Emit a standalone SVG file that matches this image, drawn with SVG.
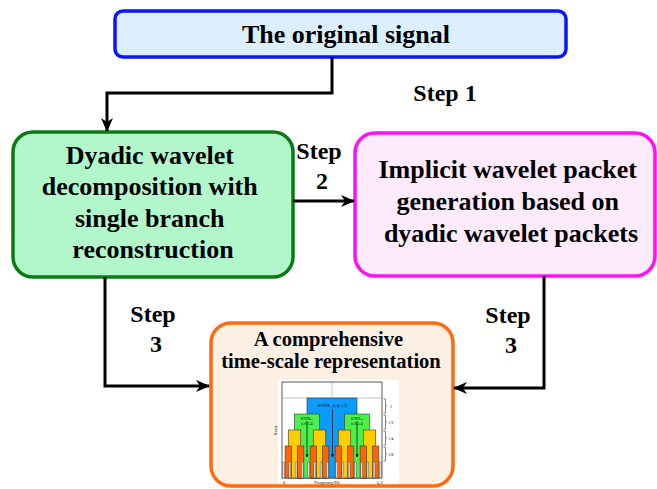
<svg xmlns="http://www.w3.org/2000/svg" width="657" height="489" viewBox="0 0 657 489">
  <defs>
    <marker id="arr" markerUnits="userSpaceOnUse" markerWidth="14" markerHeight="12" viewBox="0 0 14 12" refX="13" refY="6" orient="auto">
      <path d="M0,0 L14,6 L0,12 L4,6 z" fill="#000"/>
    </marker>
    <marker id="arrs" markerUnits="userSpaceOnUse" markerWidth="3" markerHeight="3" viewBox="0 0 10 10" refX="9" refY="5" orient="auto">
      <path d="M0,0 L10,5 L0,10 z" fill="#000"/>
    </marker>
  </defs>
  <style>
    .t { font-family: "Liberation Serif", "Times New Roman", serif; font-weight: bold; fill: #000; text-anchor: middle; }
    .box { stroke-width: 3.5; }
    .conn { fill: none; stroke: #000; stroke-width: 3; marker-end: url(#arr); }
    .tiny { font-family: "Liberation Serif", "Times New Roman", serif; fill: #000; text-anchor: middle; }
    .blk { stroke: #333; stroke-width: 0.6; }
  </style>
  <rect width="657" height="489" fill="#fff"/>

  <g id="original-signal">
    <rect class="box" x="115" y="11" width="451" height="46" rx="8" fill="#dcefff" stroke="#0a14ff"/>
    <text class="t" x="346" y="43" font-size="26">The original signal</text>
  </g>

  <g id="dyadic-decomposition">
    <rect class="box" x="13" y="132" width="280" height="145" rx="20" fill="#b2f7c9" stroke="#0b7a14"/>
    <text class="t" font-size="26">
      <tspan x="153" y="164">Dyadic wavelet</tspan>
      <tspan x="153" y="195">decomposition with</tspan>
      <tspan x="153" y="227">single branch</tspan>
      <tspan x="153" y="258">reconstruction</tspan>
    </text>
  </g>

  <g id="implicit-packet">
    <rect class="box" x="355" y="133" width="300" height="143" rx="20" fill="#fdeafd" stroke="#ff10f0"/>
    <text class="t" font-size="26">
      <tspan x="511" y="178">Implicit wavelet packet</tspan>
      <tspan x="511" y="210">generation based on</tspan>
      <tspan x="511" y="242">dyadic wavelet packets</tspan>
    </text>
  </g>

  <g id="time-scale-representation">
    <rect class="box" x="211" y="323" width="242" height="163" rx="20" fill="#fcefe3" stroke="#ff6a10"/>
    <text class="t" font-size="20.5">
      <tspan x="331" y="346">A comprehensive</tspan>
      <tspan x="331" y="368">time-scale representation</tspan>
    </text>
    <g id="chart">
      <rect x="278" y="380" width="121" height="104" fill="#fff"/>
      <rect x="282" y="382" width="100" height="96" fill="#fff" stroke="#333" stroke-width="0.8"/>
      <line x1="282" y1="398" x2="382" y2="398" stroke="#888" stroke-width="0.5"/>
      <line x1="332" y1="382" x2="332" y2="398" stroke="#888" stroke-width="0.5"/>
      <rect class="blk" x="307" y="398" width="50" height="80" fill="#0a9cff"/>
      <rect class="blk" x="294.5" y="414" width="25" height="64" fill="#4cf04c"/>
      <rect class="blk" x="344.5" y="414" width="25" height="64" fill="#4cf04c"/>
      <g fill="#ffcc00" class="blk">
        <rect x="288.25" y="430" width="12.5" height="48"/>
        <rect x="313.25" y="430" width="12.5" height="48"/>
        <rect x="338.25" y="430" width="12.5" height="48"/>
        <rect x="363.25" y="430" width="12.5" height="48"/>
      </g>
      <g fill="#ff6600" class="blk">
        <rect x="285.1" y="446" width="6.25" height="32"/>
        <rect x="297.6" y="446" width="6.25" height="32"/>
        <rect x="310.1" y="446" width="6.25" height="32"/>
        <rect x="322.6" y="446" width="6.25" height="32"/>
        <rect x="335.1" y="446" width="6.25" height="32"/>
        <rect x="347.6" y="446" width="6.25" height="32"/>
        <rect x="360.1" y="446" width="6.25" height="32"/>
        <rect x="372.6" y="446" width="6.25" height="32"/>
      </g>
      <g fill="#d8d8d8" stroke="#444" stroke-width="0.4">
        <rect x="282.6" y="462" width="2" height="16"/>
        <rect x="288.85" y="462" width="2" height="16"/>
        <rect x="295.1" y="462" width="2" height="16"/>
        <rect x="301.35" y="462" width="2" height="16"/>
        <rect x="307.6" y="462" width="2" height="16"/>
        <rect x="313.85" y="462" width="2" height="16"/>
        <rect x="320.1" y="462" width="2" height="16"/>
        <rect x="326.35" y="462" width="2" height="16"/>
        <rect x="335.6" y="462" width="2" height="16"/>
        <rect x="341.85" y="462" width="2" height="16"/>
        <rect x="348.1" y="462" width="2" height="16"/>
        <rect x="354.35" y="462" width="2" height="16"/>
        <rect x="360.6" y="462" width="2" height="16"/>
        <rect x="366.85" y="462" width="2" height="16"/>
        <rect x="373.1" y="462" width="2" height="16"/>
        <rect x="379.35" y="462" width="2" height="16"/>
      </g>
      <g stroke="#000" stroke-width="0.7" marker-end="url(#arrs)">
        <line x1="307" y1="421" x2="307" y2="457"/>
        <line x1="332.5" y1="409" x2="332.5" y2="457"/>
        <line x1="357" y1="421" x2="357" y2="457"/>
      </g>
      <text class="tiny" x="332.5" y="407" font-size="3.6">SCWPS<tspan font-size="2.6" dy="0.8">1,1</tspan><tspan dy="-0.8">(f</tspan><tspan font-size="2.6" dy="0.8">s</tspan><tspan dy="-0.8">/4, f</tspan><tspan font-size="2.6" dy="0.8">s</tspan><tspan dy="-0.8">/2)</tspan></text>
      <text class="tiny" x="307" y="419.5" font-size="3">SCWPS<tspan font-size="2.2" dy="0.6">2,1</tspan></text>
      <text class="tiny" x="307" y="424.5" font-size="3">(f<tspan font-size="2.2" dy="0.6">s</tspan><tspan dy="-0.6">/8, f</tspan><tspan font-size="2.2" dy="0.6">s</tspan><tspan dy="-0.6">/4)</tspan></text>
      <text class="tiny" x="357" y="419.5" font-size="3">SCWPS<tspan font-size="2.2" dy="0.6">2,2</tspan></text>
      <text class="tiny" x="357" y="424.5" font-size="3">(f<tspan font-size="2.2" dy="0.6">s</tspan><tspan dy="-0.6">/8, f</tspan><tspan font-size="2.2" dy="0.6">s</tspan><tspan dy="-0.6">/4)</tspan></text>
      <g fill="none" stroke="#333" stroke-width="0.6">
        <path d="M383.5,399 H385.5 V413 H383.5 M385.5,406 H387"/>
        <path d="M383.5,415 H385.5 V429 H383.5 M385.5,422 H387"/>
        <path d="M383.5,431 H385.5 V445 H383.5 M385.5,438 H387"/>
        <path d="M383.5,447 H385.5 V461 H383.5 M385.5,454 H387"/>
      </g>
      <g font-size="4">
        <text class="tiny" x="391" y="407.5">1</text>
        <text class="tiny" x="391" y="423.5">1/2</text>
        <text class="tiny" x="391" y="439.5">1/4</text>
        <text class="tiny" x="391" y="455.5">1/8</text>
      </g>
      <text class="tiny" font-size="4.5" transform="translate(277,430) rotate(-90)">Scale</text>
      <text class="tiny" font-size="4.5" x="284" y="483.5">0</text>
      <text class="tiny" font-size="4.5" x="327" y="483.5">Frequency/Hz</text>
      <text class="tiny" font-size="4.5" x="380" y="483.5">f<tspan font-size="3.2" dy="1">s</tspan><tspan dy="-1">/2</tspan></text>
    </g>
  </g>

  <g id="connectors">
    <path class="conn" d="M332,57 V93 H107 V131"/>
    <path class="conn" d="M293,201 H354"/>
    <path class="conn" d="M105,277 V386 H209"/>
    <path class="conn" d="M544,276 V388 H454"/>
    <text class="t" x="445" y="101" font-size="24">Step 1</text>
    <text class="t" font-size="24">
      <tspan x="322" y="159">Step</tspan>
      <tspan x="322" y="189">2</tspan>
    </text>
    <text class="t" font-size="24">
      <tspan x="156" y="322">Step</tspan>
      <tspan x="156" y="352">3</tspan>
    </text>
    <text class="t" font-size="24">
      <tspan x="511" y="323">Step</tspan>
      <tspan x="511" y="353">3</tspan>
    </text>
  </g>
</svg>
